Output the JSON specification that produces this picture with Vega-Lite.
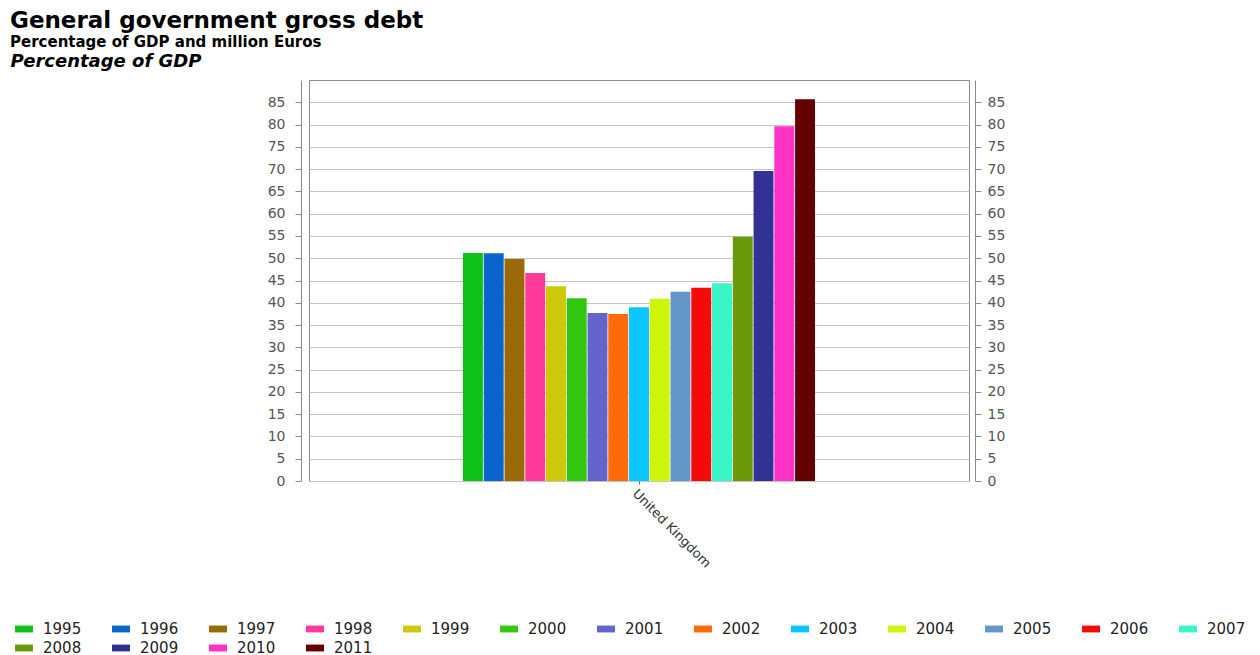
{
  "$schema": "https://vega.github.io/schema/vega-lite/v6.json",
  "autosize": {"type": "none"},
  "width": 660,
  "height": 401,
  "padding": {"left": 309, "top": 80, "right": 291, "bottom": 174},
  "background": "white",
  "title": {
    "text": "General government gross debt",
    "subtitle": "Percentage of GDP and million Euros",
    "anchor": "start",
    "frame": "group",
    "dx": -299,
    "offset": 2,
    "font": "DejaVu Sans",
    "fontSize": 23,
    "fontWeight": "bold",
    "color": "#000000",
    "subtitleFont": "DejaVu Sans",
    "subtitleFontSize": 15,
    "subtitleFontWeight": "bold",
    "subtitleColor": "#000000",
    "subtitlePadding": 2
  },
  "config": {
    "view": {"stroke": "#8a8a8a", "strokeWidth": 1},
    "axis": {"labelFont": "DejaVu Sans", "titleFont": "DejaVu Sans"},
    "legend": {"labelFont": "DejaVu Sans"}
  },
  "data": {
    "values": [
      {"country": "United Kingdom", "year": "1995", "value": 51.2},
      {"country": "United Kingdom", "year": "1996", "value": 51.1},
      {"country": "United Kingdom", "year": "1997", "value": 49.8},
      {"country": "United Kingdom", "year": "1998", "value": 46.7},
      {"country": "United Kingdom", "year": "1999", "value": 43.7},
      {"country": "United Kingdom", "year": "2000", "value": 41.0},
      {"country": "United Kingdom", "year": "2001", "value": 37.7},
      {"country": "United Kingdom", "year": "2002", "value": 37.5},
      {"country": "United Kingdom", "year": "2003", "value": 39.0},
      {"country": "United Kingdom", "year": "2004", "value": 40.9},
      {"country": "United Kingdom", "year": "2005", "value": 42.5},
      {"country": "United Kingdom", "year": "2006", "value": 43.4},
      {"country": "United Kingdom", "year": "2007", "value": 44.4},
      {"country": "United Kingdom", "year": "2008", "value": 54.8},
      {"country": "United Kingdom", "year": "2009", "value": 69.6},
      {"country": "United Kingdom", "year": "2010", "value": 79.6},
      {"country": "United Kingdom", "year": "2011", "value": 85.7}
    ]
  },
  "layer": [
    {
      "mark": {"type": "bar"},
      "encoding": {
        "x": {
          "field": "country",
          "type": "nominal",
          "scale": {"paddingInner": 0, "paddingOuter": 0.4375},
          "axis": {
            "title": null,
            "domain": false,
            "ticks": true,
            "tickSize": 3,
            "tickColor": "#666666",
            "labelAngle": 45,
            "labelAlign": "left",
            "labelBaseline": "top",
            "labelFontSize": 13,
            "labelColor": "#333333",
            "labelPadding": 3
          }
        },
        "xOffset": {
          "field": "year",
          "type": "nominal",
          "scale": {"paddingInner": 0.04, "paddingOuter": 0}
        },
        "y": {
          "field": "value",
          "type": "quantitative",
          "scale": {"domain": [0, 90], "nice": false, "zero": true},
          "axis": {
            "orient": "left",
            "offset": 8,
            "values": [0, 5, 10, 15, 20, 25, 30, 35, 40, 45, 50, 55, 60, 65, 70, 75, 80, 85],
            "grid": true,
            "gridColor": "#c4c4c4",
            "gridWidth": 1,
            "domainColor": "#8a8a8a",
            "tickColor": "#8a8a8a",
            "tickSize": 6,
            "labelFontSize": 14,
            "labelColor": "#555555",
            "labelPadding": 10,
            "title": "Percentage of GDP",
            "titleAngle": 0,
            "titleAlign": "left",
            "titleBaseline": "alphabetic",
            "titleX": -291,
            "titleY": -14,
            "titleFontSize": 18,
            "titleFontWeight": "bold",
            "titleFontStyle": "italic",
            "titleColor": "#000000"
          }
        },
        "color": {
          "field": "year",
          "type": "nominal",
          "scale": {
            "domain": ["1995", "1996", "1997", "1998", "1999", "2000", "2001", "2002", "2003", "2004", "2005", "2006", "2007", "2008", "2009", "2010", "2011"],
            "range": ["#0fbf1a", "#0a64cc", "#9a6a0a", "#ff3a98", "#cdc80a", "#33c80f", "#6464cc", "#ff6a0a", "#0ac8ff", "#ccf50a", "#6496c8", "#f50a0a", "#3af5c8", "#6a9a0a", "#323296", "#ff32c8", "#640000"]
          },
          "legend": {
            "orient": "none",
            "legendX": -294,
            "legendY": 540,
            "direction": "horizontal",
            "columns": 13,
            "title": null,
            "symbolType": "M-1,-0.38H1V0.38H-1Z",
            "symbolSize": 324,
            "symbolStrokeWidth": 0,
            "symbolOpacity": 1,
            "labelFontSize": 15,
            "labelColor": "#222222",
            "labelOffset": 10,
            "columnPadding": 30,
            "rowPadding": 2
          }
        }
      }
    },
    {
      "mark": {"type": "rule", "opacity": 0},
      "encoding": {
        "y": {
          "field": "value",
          "type": "quantitative",
          "axis": {
            "orient": "right",
            "offset": 6,
            "values": [0, 5, 10, 15, 20, 25, 30, 35, 40, 45, 50, 55, 60, 65, 70, 75, 80, 85],
            "grid": false,
            "domainColor": "#8a8a8a",
            "tickColor": "#8a8a8a",
            "tickSize": 6,
            "labelFontSize": 14,
            "labelColor": "#555555",
            "labelPadding": 6,
            "title": null
          }
        }
      }
    }
  ],
  "resolve": {"axis": {"y": "independent"}}
}
